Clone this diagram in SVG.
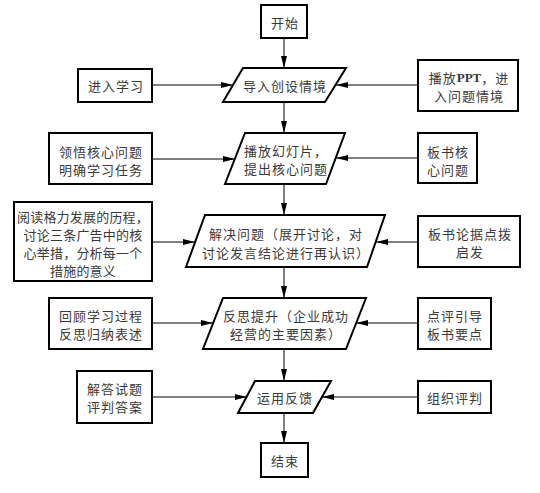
<svg xmlns="http://www.w3.org/2000/svg" width="540" height="493" viewBox="0 0 540 493">
<defs>
<style>
.n{fill:#fff;stroke:#000;stroke-width:2}
.t{font-family:"Noto Sans CJK SC","Noto Sans",sans-serif;font-size:13px;fill:#3a3a3a;text-anchor:middle;dominant-baseline:central;letter-spacing:1px}
.s{letter-spacing:0.2px}
.b{font-family:"Liberation Serif",serif;font-weight:bold;letter-spacing:0}
.c{stroke:#000;stroke-width:1;fill:none;marker-end:url(#ah)}
</style>
<marker id="ah" viewBox="0 0 12 6" refX="12" refY="3" markerWidth="12" markerHeight="6" markerUnits="userSpaceOnUse" orient="auto">
<path d="M0,0 L12,3 L0,6 Z" fill="#000"/>
</marker>
</defs>
<rect width="540" height="493" fill="#fff"/>
<g id="connectors">
<line class="c" x1="284" y1="38" x2="284" y2="68"/>
<line class="c" x1="284" y1="102" x2="284" y2="133"/>
<line class="c" x1="284" y1="184" x2="284" y2="215"/>
<line class="c" x1="284" y1="267" x2="284" y2="298"/>
<line class="c" x1="284" y1="349" x2="284" y2="381"/>
<line class="c" x1="284" y1="413" x2="284" y2="443"/>
<line class="c" x1="152" y1="85" x2="233" y2="85"/>
<line class="c" x1="418" y1="85" x2="336" y2="85"/>
<line class="c" x1="152" y1="159" x2="235" y2="159"/>
<line class="c" x1="418" y1="158" x2="336" y2="158"/>
<line class="c" x1="152" y1="242" x2="195" y2="242"/>
<line class="c" x1="418" y1="242" x2="376" y2="242"/>
<line class="c" x1="152" y1="323" x2="213" y2="323"/>
<line class="c" x1="418" y1="323" x2="356" y2="323"/>
<line class="c" x1="152" y1="397" x2="247" y2="397"/>
<line class="c" x1="418" y1="397" x2="322" y2="397"/>
</g>
<g id="start">
<rect class="n" x="261" y="5" width="46" height="33"/>
<text class="t" x="285" y="22">开始</text>
</g>
<g id="p1">
<polygon class="n" points="243,68 346,68 325,102 223,102"/>
<text class="t" x="285" y="85">导入创设情境</text>
</g>
<g id="p2">
<polygon class="n" points="245,133 345,133 326,184 225,184"/>
<text class="t" x="286" y="150">播放幻灯片，</text>
<text class="t" x="286" y="168">提出核心问题</text>
</g>
<g id="p3">
<polygon class="n" points="205,215 385,215 367,267 186,267"/>
<text class="t" x="286" y="233">解决问题（展开讨论，对</text>
<text class="t" x="286" y="252">讨论发言结论进行再认识）</text>
</g>
<g id="p4">
<polygon class="n" points="223,298 366,298 346,349 203,349"/>
<text class="t" x="286" y="315">反思提升（企业成功</text>
<text class="t" x="286" y="333">经营的主要因素）</text>
</g>
<g id="p5">
<polygon class="n" points="255,381 331,381 313,413 238,413"/>
<text class="t" x="285" y="397">运用反馈</text>
</g>
<g id="end">
<rect class="n" x="261" y="443" width="47" height="34"/>
<text class="t" x="285" y="460">结束</text>
</g>
<g id="l1">
<rect class="n" x="78" y="69" width="74" height="33"/>
<text class="t" x="116" y="85">进入学习</text>
</g>
<g id="l2">
<rect class="n" x="49" y="133" width="103" height="51"/>
<text class="t" x="101" y="151">领悟核心问题</text>
<text class="t" x="101" y="169">明确学习任务</text>
</g>
<g id="l3">
<rect class="n" x="14" y="202" width="138" height="79"/>
<text class="t s" x="83" y="216">阅读格力发展的历程，</text>
<text class="t s" x="83" y="234">讨论三条广告中的核</text>
<text class="t s" x="83" y="252">心举措，分析每一个</text>
<text class="t s" x="83" y="270">措施的意义</text>
</g>
<g id="l4">
<rect class="n" x="49" y="298" width="103" height="51"/>
<text class="t" x="101" y="315">回顾学习过程</text>
<text class="t" x="101" y="333">反思归纳表述</text>
</g>
<g id="l5">
<rect class="n" x="77" y="371" width="75" height="52"/>
<text class="t" x="115" y="388">解答试题</text>
<text class="t" x="115" y="406">评判答案</text>
</g>
<g id="r1">
<rect class="n" x="418" y="60" width="100" height="51"/>
<text class="t" x="469" y="77">播放<tspan class="b">PPT</tspan>，进</text>
<text class="t" x="469" y="95">入问题情境</text>
</g>
<g id="r2">
<rect class="n" x="418" y="133" width="59" height="50"/>
<text class="t" x="448" y="151">板书核</text>
<text class="t" x="448" y="169">心问题</text>
</g>
<g id="r3">
<rect class="n" x="418" y="216" width="102" height="51"/>
<text class="t" x="470" y="233">板书论据点拨</text>
<text class="t" x="470" y="251">启发</text>
</g>
<g id="r4">
<rect class="n" x="418" y="298" width="73" height="51"/>
<text class="t" x="455" y="315">点评引导</text>
<text class="t" x="455" y="333">板书要点</text>
</g>
<g id="r5">
<rect class="n" x="418" y="381" width="73" height="32"/>
<text class="t" x="455" y="397">组织评判</text>
</g>
</svg>
